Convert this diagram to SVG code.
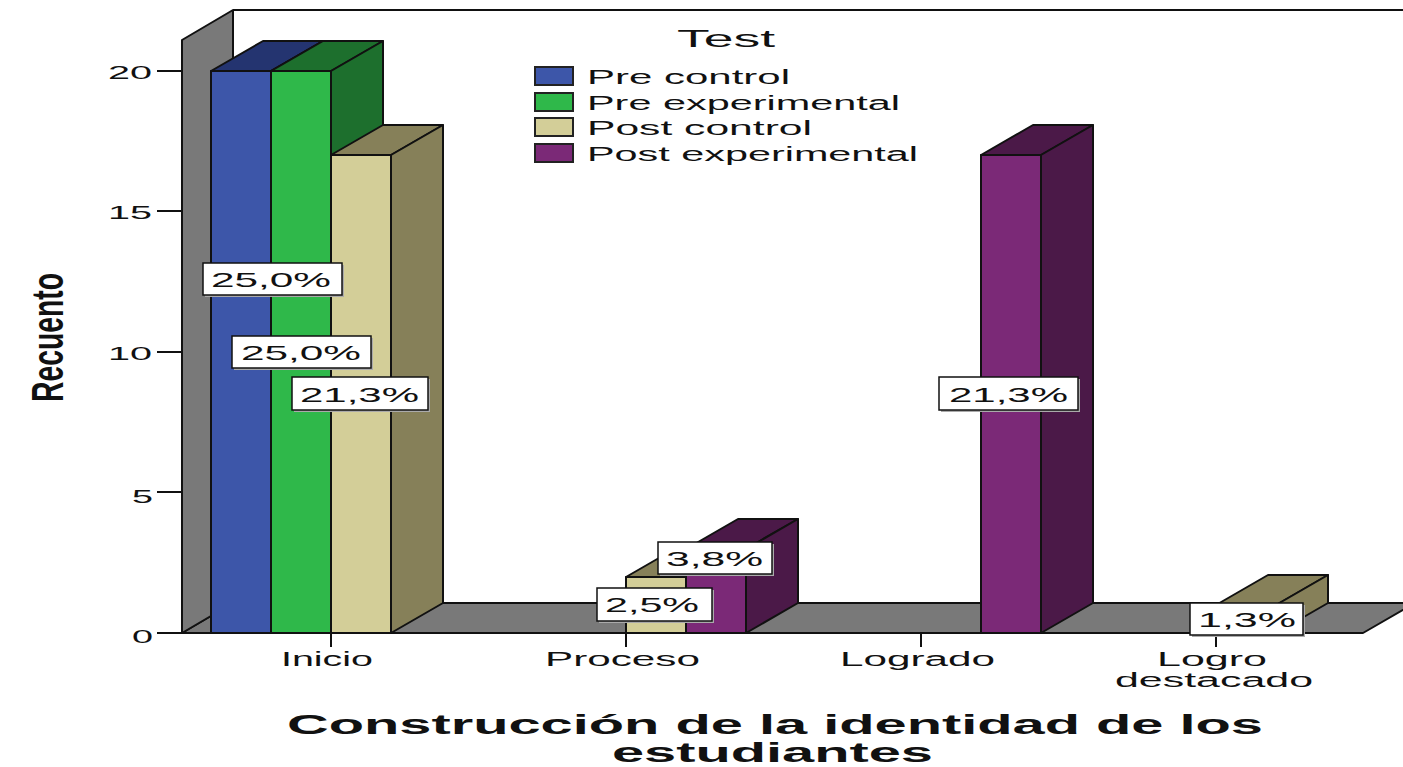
<svg xmlns="http://www.w3.org/2000/svg" width="1403" height="767" viewBox="0 0 1403 767">
<style>
text{font-family:"Liberation Sans",Arial,sans-serif;fill:#111}
.tick{font-size:19px}
.cat{font-size:20px}
.leg{font-size:20px}
.pct{font-size:21px}
.ttl{font-size:28px;font-weight:bold}
.edge{stroke:#111;stroke-width:2;stroke-linejoin:round}
.gray{fill:#797979}
.bF{fill:#3D56A9}.bT{fill:#243470}
.gF{fill:#2FB84A}.gT{fill:#1D6F2D}
.tF{fill:#D3CE98}.tT{fill:#868059}
.pF{fill:#7B2977}.pT{fill:#4B1948}
.box{fill:#fff;stroke:#111;stroke-width:1.5}
.shd{fill:#aaa}
.ax{stroke:#111;stroke-width:2}
</style>
<rect width="1403" height="767" fill="#fff"/>
<g id="chart-frame">
  <line class="ax" x1="233" y1="10" x2="1403" y2="10"/>
  <line class="ax" x1="233" y1="10" x2="233" y2="603"/>
  <polygon id="floor" class="gray edge" points="182,633 1363,633 1415,603 233,603"/>
  <polygon id="wall" class="gray edge" points="182,633 182,40 233,10 233,603"/>
</g>
<g id="y-axis">
  <line class="ax" x1="157" y1="71" x2="182" y2="71"/>
  <line class="ax" x1="157" y1="211" x2="182" y2="211"/>
  <line class="ax" x1="157" y1="352" x2="182" y2="352"/>
  <line class="ax" x1="157" y1="492" x2="182" y2="492"/>
  <line class="ax" x1="157" y1="633" x2="182" y2="633"/>
  <text class="tick" x="108" y="79" textLength="44" lengthAdjust="spacingAndGlyphs">20</text>
  <text class="tick" x="108" y="219" textLength="44" lengthAdjust="spacingAndGlyphs">15</text>
  <text class="tick" x="108" y="360" textLength="44" lengthAdjust="spacingAndGlyphs">10</text>
  <text class="tick" x="132" y="503" textLength="21" lengthAdjust="spacingAndGlyphs">5</text>
  <text class="tick" x="132" y="643" textLength="21" lengthAdjust="spacingAndGlyphs">0</text>
  <text class="ttl" transform="translate(63,337.5) rotate(-90) scale(1,2)" x="-64.5" y="0" style="font-size:22px" textLength="129" lengthAdjust="spacingAndGlyphs">Recuento</text>
</g>
<g id="bars">
  <g id="inicio-pre-control">
    <rect class="bF edge" x="211" y="71" width="60" height="562"/>
    <polygon class="bT edge" points="211,71 271,71 323,41 263,41"/>
    <polygon class="bT edge" points="271,71 323,41 323,603 271,633"/>
  </g>
  <g id="inicio-pre-experimental">
    <rect class="gF edge" x="271" y="71" width="60" height="562"/>
    <polygon class="gT edge" points="271,71 331,71 383,41 323,41"/>
    <polygon class="gT edge" points="331,71 383,41 383,603 331,633"/>
  </g>
  <g id="inicio-post-control">
    <rect class="tF edge" x="331" y="155" width="60" height="478"/>
    <polygon class="tT edge" points="331,155 391,155 443,125 383,125"/>
    <polygon class="tT edge" points="391,155 443,125 443,603 391,633"/>
  </g>
  <g id="proceso-post-control">
    <rect class="tF edge" x="626" y="577" width="60" height="56"/>
    <polygon class="tT edge" points="626,577 686,577 738,547 678,547"/>
    <polygon class="tT edge" points="686,577 738,547 738,603 686,633"/>
  </g>
  <g id="proceso-post-experimental">
    <rect class="pF edge" x="686" y="549" width="60" height="84"/>
    <polygon class="pT edge" points="686,549 746,549 798,519 738,519"/>
    <polygon class="pT edge" points="746,549 798,519 798,603 746,633"/>
  </g>
  <g id="logrado-post-experimental">
    <rect class="pF edge" x="981" y="155" width="60" height="478"/>
    <polygon class="pT edge" points="981,155 1041,155 1093,125 1033,125"/>
    <polygon class="pT edge" points="1041,155 1093,125 1093,603 1041,633"/>
  </g>
  <g id="logro-post-control">
    <rect class="tF edge" x="1216" y="605" width="60" height="28"/>
    <polygon class="tT edge" points="1216,605 1276,605 1328,575 1268,575"/>
    <polygon class="tT edge" points="1276,605 1328,575 1328,603 1276,633"/>
  </g>
</g>
<g id="x-axis">
  <line class="ax" x1="331" y1="633" x2="331" y2="647"/>
  <line class="ax" x1="626" y1="633" x2="626" y2="647"/>
  <line class="ax" x1="921" y1="633" x2="921" y2="647"/>
  <line class="ax" x1="1216" y1="633" x2="1216" y2="647"/>
  <text class="cat" x="281" y="666" textLength="92" lengthAdjust="spacingAndGlyphs">Inicio</text>
  <text class="cat" x="545" y="666" textLength="155" lengthAdjust="spacingAndGlyphs">Proceso</text>
  <text class="cat" x="840" y="666" textLength="155" lengthAdjust="spacingAndGlyphs">Logrado</text>
  <text class="cat" x="1157" y="666" textLength="110" lengthAdjust="spacingAndGlyphs">Logro</text>
  <text class="cat" x="1115" y="687" textLength="198" lengthAdjust="spacingAndGlyphs">destacado</text>
  <text class="ttl" x="287" y="734" textLength="976" lengthAdjust="spacingAndGlyphs">Construcción de la identidad de los</text>
  <text class="ttl" x="612" y="762" textLength="321" lengthAdjust="spacingAndGlyphs">estudiantes</text>
</g>
<g id="value-labels">
  <g id="lbl-inicio-pc">
    <rect class="shd" x="205" y="265" width="139" height="32"/>
    <rect class="box" x="203" y="263" width="139" height="32"/>
    <text class="pct" x="211" y="287" textLength="120" lengthAdjust="spacingAndGlyphs">25,0%</text>
  </g>
  <g id="lbl-inicio-pe">
    <rect class="shd" x="234" y="338" width="139" height="32"/>
    <rect class="box" x="232" y="336" width="139" height="32"/>
    <text class="pct" x="241" y="360" textLength="120" lengthAdjust="spacingAndGlyphs">25,0%</text>
  </g>
  <g id="lbl-inicio-postc">
    <rect class="shd" x="294" y="379" width="136" height="33"/>
    <rect class="box" x="292" y="377" width="136" height="33"/>
    <text class="pct" x="300" y="402" textLength="119" lengthAdjust="spacingAndGlyphs">21,3%</text>
  </g>
  <g id="lbl-logrado-pe">
    <rect class="shd" x="941" y="379" width="139" height="33"/>
    <rect class="box" x="939" y="377" width="139" height="33"/>
    <text class="pct" x="949" y="402" textLength="119" lengthAdjust="spacingAndGlyphs">21,3%</text>
  </g>
  <g id="lbl-proceso-pe">
    <rect class="shd" x="660" y="544" width="114" height="32"/>
    <rect class="box" x="658" y="542" width="114" height="32"/>
    <text class="pct" x="666" y="566" textLength="97" lengthAdjust="spacingAndGlyphs">3,8%</text>
  </g>
  <g id="lbl-proceso-pc">
    <rect class="shd" x="599" y="590" width="115" height="33"/>
    <rect class="box" x="597" y="588" width="115" height="33"/>
    <text class="pct" x="605" y="612" textLength="94" lengthAdjust="spacingAndGlyphs">2,5%</text>
  </g>
  <g id="lbl-logro-pc">
    <rect class="shd" x="1192" y="605" width="113" height="32"/>
    <rect class="box" x="1190" y="603" width="113" height="32"/>
    <text class="pct" x="1198" y="627" textLength="98" lengthAdjust="spacingAndGlyphs">1,3%</text>
  </g>
</g>
<g id="legend">
  <text x="677" y="47" style="font-size:24px" textLength="98" lengthAdjust="spacingAndGlyphs">Test</text>
  <rect class="bF" x="535" y="67" width="38" height="18" stroke="#222" stroke-width="2"/>
  <rect class="gF" x="535" y="93" width="38" height="18" stroke="#222" stroke-width="2"/>
  <rect class="tF" x="535" y="118" width="38" height="18" stroke="#222" stroke-width="2"/>
  <rect class="pF" x="535" y="144" width="38" height="18" stroke="#222" stroke-width="2"/>
  <text class="leg" x="587" y="84" textLength="203" lengthAdjust="spacingAndGlyphs">Pre control</text>
  <text class="leg" x="587" y="110" textLength="313" lengthAdjust="spacingAndGlyphs">Pre experimental</text>
  <text class="leg" x="587" y="135" textLength="225" lengthAdjust="spacingAndGlyphs">Post control</text>
  <text class="leg" x="587" y="161" textLength="331" lengthAdjust="spacingAndGlyphs">Post experimental</text>
</g>
</svg>
